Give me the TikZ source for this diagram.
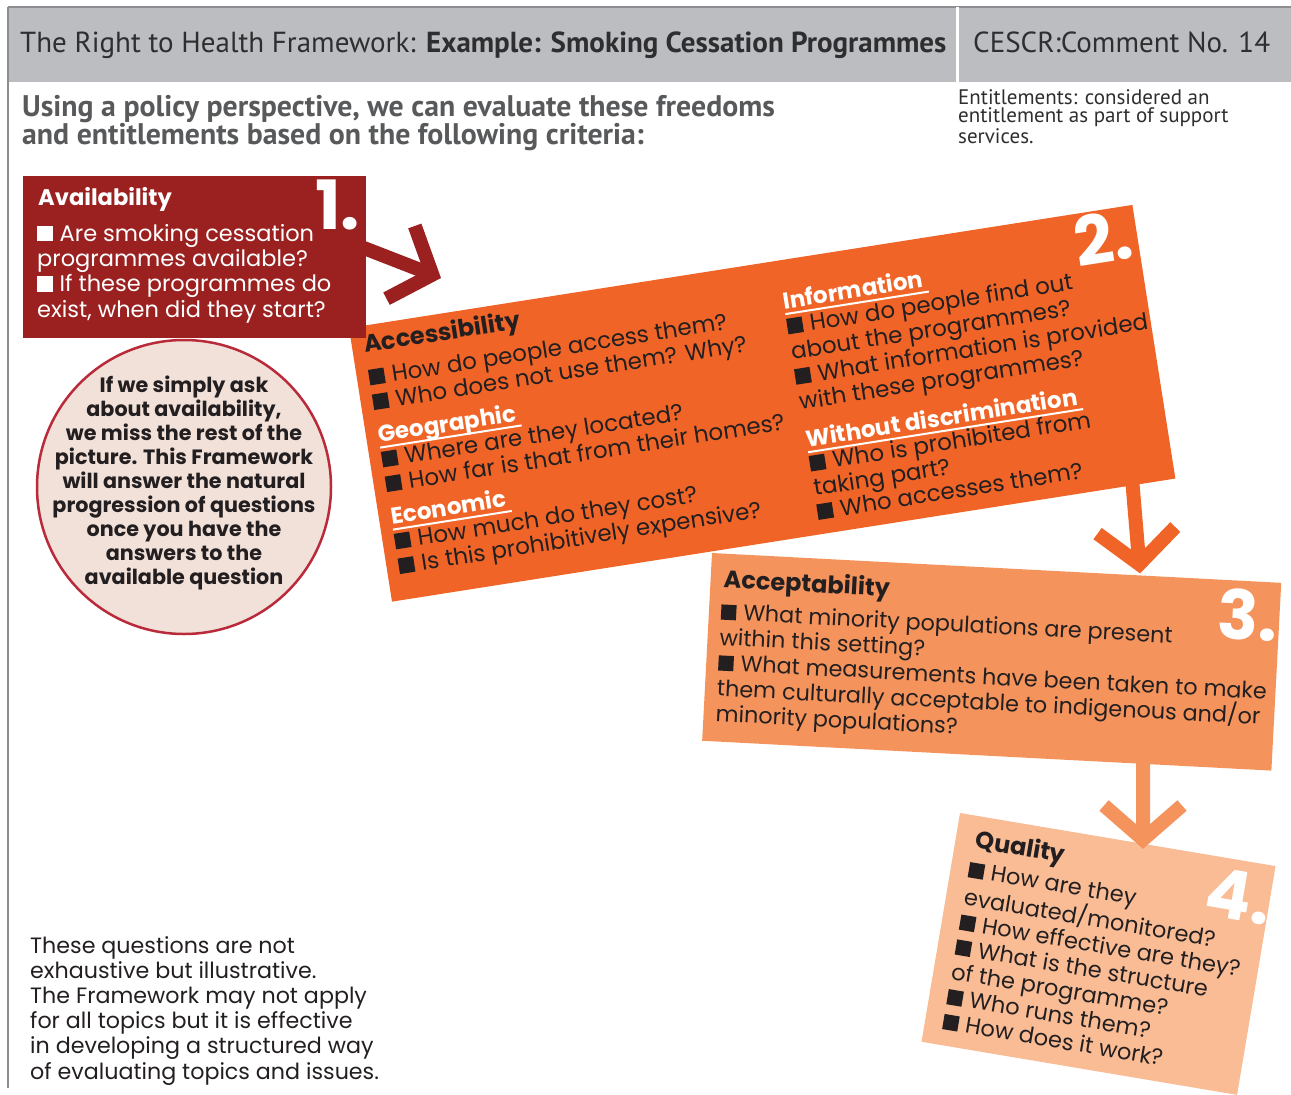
\documentclass[tikz,border=0pt]{standalone}
\usepackage{fontspec}
\setmainfont{Poppins}
\newfontfamily\headfont{PT Sans}
\usetikzlibrary{calc,arrows.meta}

\definecolor{hdgrey}{HTML}{BCBDC0}
\definecolor{hdline}{HTML}{8C8D90}
\definecolor{hdtext}{HTML}{2E2E30}
\definecolor{subgrey}{HTML}{58595B}
\definecolor{ink}{HTML}{231F20}
\definecolor{availred}{HTML}{9B2121}
\definecolor{accorange}{HTML}{F06527}
\definecolor{acptorange}{HTML}{F4935B}
\definecolor{qualpeach}{HTML}{F9BC95}
\definecolor{circfill}{HTML}{F2E1D9}
\definecolor{circline}{HTML}{B92B3A}

% square bullet and underlined sub-heading
\newcommand{\bx}{\rule{0.68em}{0.68em}\hspace{0.32em}}
\newcommand{\subhd}[1]{\setbox0\hbox{#1}\rlap{\rule[-6pt]{\dimexpr\wd0+4pt\relax}{2pt}}\box0}

% note: base anchor of a multi-line node sits on its last line
\tikzset{
  box/.style={anchor=north west, inner sep=0pt, outer sep=0pt},
  txt/.style={anchor=base west, inner sep=0pt, align=left},
  boxhead/.style={txt, font=\fontsize{24}{25}\selectfont\bfseries},
  boxbody/.style={txt, font=\fontsize{23}{25}\selectfont},
  bignum/.style={txt, text=white, font=\fontsize{68}{68}\selectfont\bfseries},
  chev/.style={line width=14pt, -{Straight Barb[length=34pt,width=78pt]}},
}

\begin{document}
\begin{tikzpicture}[x=1pt,y=-1pt]
  \useasboundingbox (0,0) rectangle (1291,1095);

  % header
  \fill[hdgrey] (8,7) rectangle (1291,82);
  \draw[hdline, line width=1.2] (8,7) -- (1291,7);
  \draw[hdline, line width=1.5] (8,7) -- (8,1088);
  \draw[white, line width=3] (957,7) -- (957,82);
  \node[txt, text=hdtext, font=\headfont\fontsize{29}{29}\selectfont] (title) at (20,52)
    {The Right to Health Framework: \textbf{Example: Smoking Cessation Programmes}};
  \node[txt, text=hdtext, font=\headfont\fontsize{29}{29}\selectfont] (cescr) at (973,52)
    {CESCR:Comment No. 14};

  \node[txt, text=subgrey, font=\headfont\bfseries\fontsize{29.8}{28}\selectfont] (intro) at (22,144)
    {Using a policy perspective, we can evaluate these freedoms\\and entitlements based on the following criteria:};
  \node[txt, text=hdtext, font=\headfont\fontsize{21}{18.5}\selectfont] (entnote) at (958,143)
    {Entitlements: considered an\\entitlement as part of support\\services.};

  % 2. accessibility
  \begin{scope}[shift={(349,328)}, rotate=8.93, transform shape]
    \node[box, fill=accorange, minimum width=793, minimum height=277] (b2) at (0,0) {};
    \node[boxhead, text=ink] (acc) at (12,27) {Accessibility};
    \node[boxbody, text=ink] (accq) at (12,85) {\bx How do people access them?\\\bx Who does not use them? Why?};
    \node[boxbody, text=ink] (geo) at (12,168) {\textcolor{white}{\bfseries\subhd{Geographic}}\\\bx Where are they located?\\\bx How far is that from their homes?};
    \node[boxbody, text=ink] (eco) at (12,251) {\textcolor{white}{\bfseries\subhd{Economic}}\\\bx How much do they cost?\\\bx Is this prohibitively expensive?};
    \node[boxbody, text=ink, font=\fontsize{23}{25.5}\selectfont] (info) at (433,151) {\textcolor{white}{\bfseries\subhd{Information}}\\\bx How do people find out\\about the programmes?\\\bx What information is provided\\with these programmes?};
    \node[boxbody, text=ink, font=\fontsize{23}{24.5}\selectfont] (disc) at (434,262.5) {\textcolor{white}{\bfseries\subhd{Without discrimination}}\\\bx Who is prohibited from\\taking part?\\\bx Who accesses them?};
    \node[bignum] (n2) at (730,53) {2.};
  \end{scope}

  % 1. availability
  \node[box, fill=availred, minimum width=343, minimum height=162] (b1) at (23,176) {};
  \node[boxhead, text=white, font=\fontsize{22.6}{25}\selectfont\bfseries] (avail) at (38,205) {Availability};
  \node[boxbody, text=white, font=\fontsize{22.5}{25.3}\selectfont] (availq) at (37,317)
    {\bx Are smoking cessation\\programmes available?\\\bx If these programmes do\\exist, when did they start?};
  \node[bignum] (n1) at (315,229) {1.};

  % 3. acceptability
  \begin{scope}[shift={(712,553)}, rotate=-3, transform shape]
    \node[box, fill=acptorange, minimum width=570, minimum height=188] (b3) at (0,0) {};
    \node[boxhead, text=ink] (acpt) at (13,34) {Acceptability};
    \node[boxbody, text=ink, font=\fontsize{22.3}{25.5}\selectfont] (acptq) at (12,168)
      {\bx What minority populations are present\\within this setting?\\\bx What measurements have been taken to make\\them culturally acceptable to indigenous and/or\\minority populations?};
    \node[bignum] (n3) at (508,59) {3.};
  \end{scope}

  % 4. quality
  \begin{scope}[shift={(960,813)}, rotate=-9.55, transform shape]
    \node[box, fill=qualpeach, minimum width=320, minimum height=232] (b4) at (0,0) {};
    \node[boxhead, text=ink] (qual) at (20,32) {Quality};
    \node[boxbody, text=ink, font=\fontsize{22.5}{25.2}\selectfont] (qualq) at (18,216)
      {\bx How are they\\evaluated/monitored?\\\bx How effective are they?\\\bx What is the structure\\of the programme?\\\bx Who runs them?\\\bx How does it work?};
    \node[bignum] (n4) at (256,60) {4.};
  \end{scope}

  % circle note
  \node[circle, fill=circfill, draw=circline, line width=2.5, minimum size=294, inner sep=0pt] (note) at (184,487) {};
  \node[txt, anchor=base, align=center, text=ink, font=\fontsize{20.7}{24}\selectfont\bfseries] (notetxt) at (184,584)
    {If we simply ask\\about availability,\\we miss the rest of the\\picture. This Framework\\will answer the natural\\progression of questions\\once you have the\\answers to the\\available question};

  % bottom remark
  \node[boxbody, text=ink, font=\fontsize{22.2}{25.2}\selectfont] (remark) at (30,1079)
    {These questions are not\\exhaustive but illustrative.\\The Framework may not apply\\for all topics but it is effective\\in developing a structured way\\of evaluating topics and issues.};

  % arrows
  \coordinate (t1) at (441,278);
  \draw[chev, availred] ($(b1.north east)!0.44!(b1.south east)+(-4,0)$) -- (t1);
  \draw[chev, accorange] ($(b2.south west)!0.945!(b2.south east)+(0,-4)$) -- ($(b3.north west)!0.752!(b3.north east)+(0,-2)$);
  \draw[chev, acptorange] ($(b3.south west)!0.7745!(b3.south east)+(0,-4)$) -- ($(b4.north west)!0.58!(b4.north east)+(0,5)$);
\end{tikzpicture}
\end{document}
